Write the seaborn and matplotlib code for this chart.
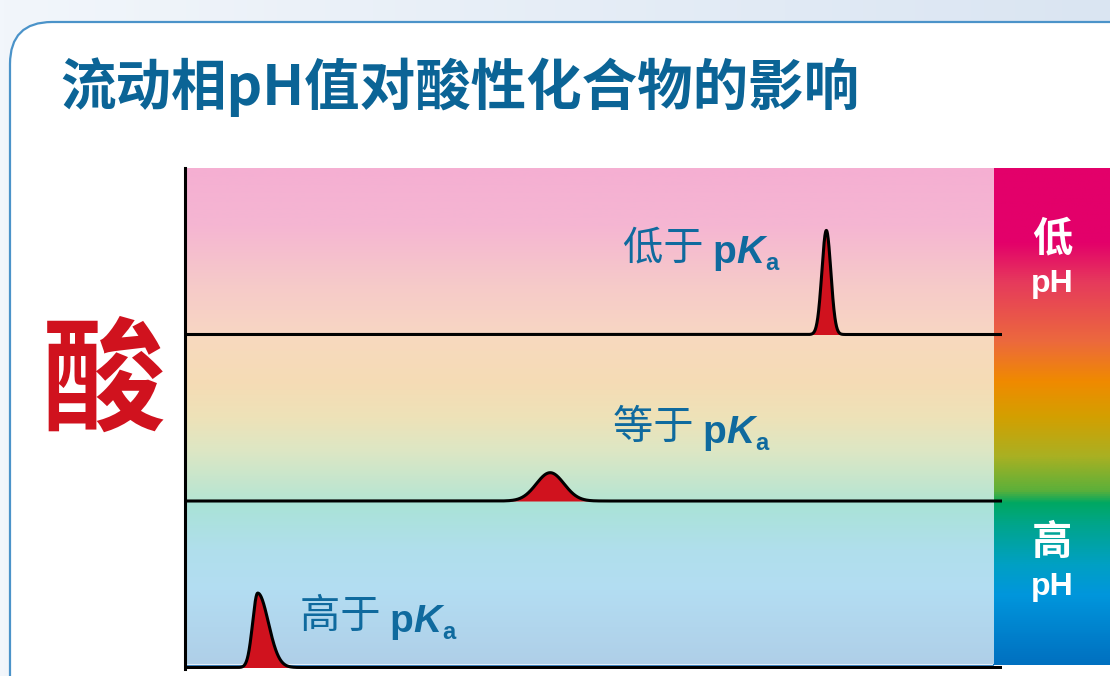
import numpy as np
import pandas as pd
import matplotlib
matplotlib.use("Agg")
import matplotlib.pyplot as plt
from matplotlib.colors import LinearSegmentedColormap
from matplotlib.patches import FancyBboxPatch
import seaborn as sns

W, H = 1110, 676

title = "流动相pH值对酸性化合物的影响"
side_label = "酸"
conditions = ["低于", "等于", "高于"]
pka_parts = ["p", "K", "a"]
peak_time = [7.85, 4.47, 0.89]          # retention time, min
peak_height = [0.625, 0.17, 0.447]      # detector response
peak_sigma_front = [0.055, 0.17, 0.062]
peak_sigma_tail = [0.055, 0.17, 0.13]
trace_offset = [2, 1, 0]
scale_labels = [("低", "pH"), ("高", "pH")]

sns.set_theme(style="white")
plt.rcParams["font.family"] = ["Noto Sans CJK SC", "DejaVu Sans"]

CJK = ["Noto Sans CJK SC", "DejaVu Sans"]
LAT = ["Liberation Sans", "DejaVu Sans"]
BLUE_TXT = "#0f6a9e"
PEAK_RED = "#d0121e"

fig = plt.figure(figsize=(W / 100, H / 100), dpi=100)


def px_box(x0, y0, x1, y1):
    return [x0 / W, 1 - y1 / H, (x1 - x0) / W, (y1 - y0) / H]


def ramp(stops, n=512):
    cmap = LinearSegmentedColormap.from_list("ramp", stops)
    return cmap(np.linspace(0, 1, n))[:, None, :]


# slide backdrop and white panel
bg = fig.add_axes([0, 0, 1, 1], zorder=-10)
bg.set_axis_off()
hgrad = np.linspace(0, 1, 256)[None, :]
bg.imshow(hgrad, extent=[0, W, H, 0], aspect="auto",
          cmap=LinearSegmentedColormap.from_list("bg", ["#f2f6fb", "#dae5f2"]))
bg.add_patch(FancyBboxPatch((10, 22), 1300, 900,
                            boxstyle="round,pad=0,rounding_size=42",
                            fc="white", ec="#4b93c9", lw=1.6))
bg.set_xlim(0, W)
bg.set_ylim(H, 0)

# pH scale bar
cax = fig.add_axes(px_box(993, 168, 1110, 665), zorder=1)
cax.set_axis_off()
cax.imshow(ramp([(0.0, "#e3006a"), (0.15, "#e3006a"), (0.23, "#e63a5c"),
                 (0.35, "#ec693d"), (0.43, "#f08a00"), (0.50, "#d49f00"),
                 (0.58, "#aab022"), (0.65, "#5cb03a"), (0.675, "#00a862"),
                 (0.72, "#00a58c"), (0.80, "#00a0c4"), (0.86, "#0096dc"),
                 (1.0, "#0070c0")]),
           extent=[0, 1, 0, 1], aspect="auto", origin="upper")
cax.set_xlim(0, 1)
cax.set_ylim(0, 1)

# chromatogram axes
ax = fig.add_axes(px_box(185, 168, 1002, 669), zorder=2)
ax.set_facecolor("none")

band_stops = [
    [(0, "#a9e3d5"), (0.3, "#b0dfec"), (0.55, "#b3ddf2"), (1, "#afcfe8")],
    [(0, "#f8d9bf"), (0.3, "#f5dcb5"), (0.5, "#eee2b8"), (0.7, "#dde7c4"), (1, "#b6e5d3")],
    [(0, "#f5afd3"), (0.35, "#f5b6d2"), (0.7, "#f6cac9"), (1, "#f8d6c3")],
]
band_end = 9.89
for k, stops in enumerate(band_stops):
    lo = 0.021 if k == 0 else k
    ax.imshow(ramp(stops), extent=[0, band_end, lo, k + 1],
              aspect="auto", origin="upper", zorder=0)
ax.plot([0, band_end], [0.016, 0.016], color="#3f86c4", lw=0.9, zorder=0.5)

t = np.linspace(0, 10, 4001)
frames = []
for name, c, h, sf, st, off in zip(conditions, peak_time, peak_height,
                                   peak_sigma_front, peak_sigma_tail, trace_offset):
    s = np.where(t < c, sf, st)
    y = off + h * np.exp(-0.5 * ((t - c) / s) ** 2)
    ax.fill_between(t, off, y, color=PEAK_RED, lw=0, zorder=1.5)
    frames.append(pd.DataFrame({"time": t, "signal": y, "trace": name}))
traces = pd.concat(frames, ignore_index=True)

sns.lineplot(data=traces, x="time", y="signal", units="trace", estimator=None,
             color="black", lw=2.2, legend=False, ax=ax, zorder=3)

ax.set_xlim(0, 10)
ax.set_ylim(-0.009, 3.0)
ax.set_xticks([])
ax.set_yticks([])
ax.set_xlabel("")
ax.set_ylabel("")
for side in ["top", "right", "bottom"]:
    ax.spines[side].set_visible(False)
ax.spines["left"].set_color("black")
ax.spines["left"].set_linewidth(2.2)

# titles
fig.text(60 / W, 1 - 105 / H, title, fontsize=40, fontweight="bold",
         color="#0b6496", family=CJK, va="baseline", ha="left")
fig.text(104 / W, 1 - 421 / H, side_label, fontsize=89, fontweight="bold",
         color="#d0121e", family=CJK, va="baseline", ha="center")

# condition labels: prefix + pKa
renderer = fig.canvas.get_renderer()
label_pos = [(623, 263), (613, 443), (300, 632)]


def put_label(x, y, prefix):
    pieces = [
        (prefix + " ", dict(fontsize=29, fontweight="medium", family=CJK), -4),
        (pka_parts[0], dict(fontsize=28, fontweight="bold", family=LAT), 0),
        (pka_parts[1], dict(fontsize=28, fontweight="bold", fontstyle="italic", family=LAT), 0),
        (pka_parts[2], dict(fontsize=17, fontweight="bold", family=LAT), 7),
    ]
    cx = x
    for s, kw, dy in pieces:
        txt = fig.text(cx / W, 1 - (y + dy) / H, s, color=BLUE_TXT,
                       va="baseline", ha="left", **kw)
        bb = txt.get_window_extent(renderer=renderer)
        cx += bb.width + (1 if s == pka_parts[1] else 0)


for (x, y), prefix in zip(label_pos, conditions):
    put_label(x, y, prefix)

# pH scale captions
for (word, unit), (yw, yu) in zip(scale_labels, [(250, 292), (554, 595)]):
    fig.text(1052 / W, 1 - yw / H, word, fontsize=29, fontweight="bold",
             color="white", family=CJK, va="baseline", ha="center")
    fig.text(1052 / W, 1 - yu / H, unit, fontsize=23, fontweight="bold",
             color="white", family=LAT, va="baseline", ha="center")

fig.savefig("out.png", dpi=100)
